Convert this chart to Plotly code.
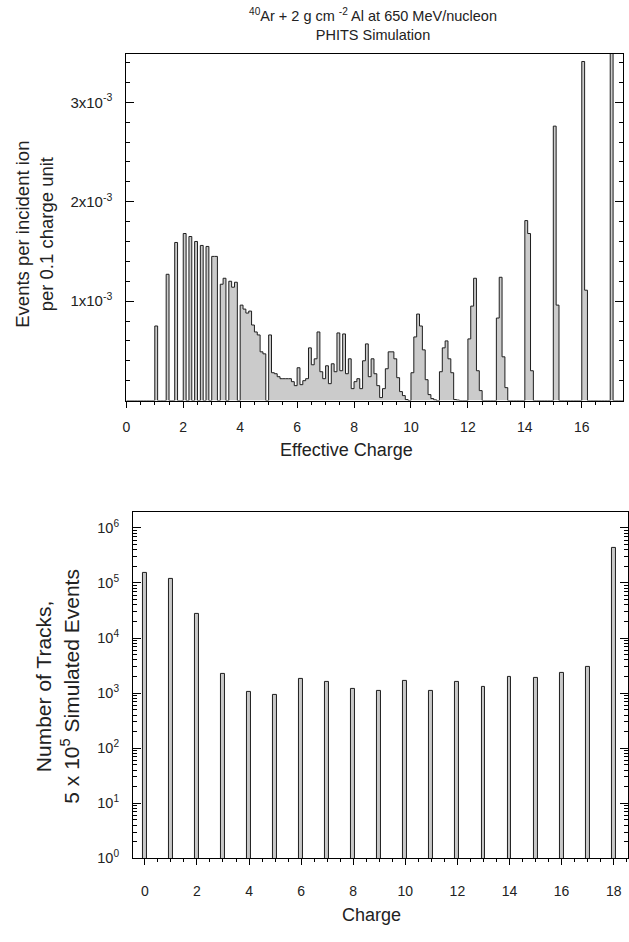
import plotly.graph_objects as go

# ---------------- data ----------------
# Top panel: events per incident ion per 0.1 charge bin (units of 1e-3), bins start at 0.0, step 0.1
bin_width = 0.1
events_e3 = [
    0, 0, 0, 0, 0, 0, 0, 0, 0, 0,                                   # 0.0-0.9
    0.75, 0, 0, 0, 1.27, 0, 0, 1.59, 0, 0,                          # 1.0-1.9
    1.68, 0, 1.65, 0, 1.60, 0, 1.56, 0, 1.55, 0,                    # 2.0-2.9
    1.45, 1.45, 0, 1.17, 1.23, 0, 1.20, 1.14, 1.19, 0,              # 3.0-3.9
    0.96, 0.92, 0.88, 0.90, 0.76, 0.69, 0.66, 0.49, 0.47, 0,        # 4.0-4.9
    0.66, 0.28, 0.27, 0.24, 0.22, 0.22, 0.22, 0.22, 0.19, 0.15,     # 5.0-5.9
    0.33, 0.16, 0.20, 0.22, 0.53, 0.36, 0.42, 0.69, 0.29, 0.22,     # 6.0-6.9
    0.35, 0.17, 0.37, 0.29, 0.68, 0.30, 0.67, 0.27, 0.42, 0.12,     # 7.0-7.9
    0.19, 0.22, 0.12, 0.40, 0.57, 0.24, 0.42, 0.27, 0.15, 0.03,     # 8.0-8.9
    0.12, 0.32, 0.49, 0.49, 0.42, 0.23, 0.09, 0.05, 0.01, 0,        # 9.0-9.9
    0.28, 0.64, 0.87, 0.75, 0.51, 0.21, 0.06, 0.02, 0.007, 0,       # 10.0-10.9
    0.29, 0.53, 0.60, 0.42, 0.28, 0.01, 0.005, 0, 0, 0,             # 11.0-11.9
    0.62, 0.95, 1.23, 0.30, 0.10, 0, 0, 0, 0, 0,                    # 12.0-12.9
    0.83, 1.24, 0.44, 0.13, 0, 0, 0, 0, 0, 0,                       # 13.0-13.9
    1.81, 1.68, 0.30, 0, 0, 0, 0, 0, 0, 0,                          # 14.0-14.9
    2.76, 0.96, 0, 0, 0, 0, 0, 0, 0, 0,                             # 15.0-15.9
    3.41, 1.11, 0, 0, 0, 0, 0, 0, 0, 0,                             # 16.0-16.9
    6.0, 0, 0, 0, 0,                                                # 17.0-17.4 (17 off scale)
]
top_yticks = [1e-3, 2e-3, 3e-3]
top_yticktext = ["1x10<sup>-3</sup>", "2x10<sup>-3</sup>", "3x10<sup>-3</sup>"]

# Bottom panel: number of tracks per integer charge
charges = list(range(0, 19))
tracks = [1.5e5, 1.2e5, 2.8e4, 2.2e3, 1.05e3, 9.4e2, 1.8e3, 1.6e3, 1.2e3, 1.1e3,
          1.65e3, 1.1e3, 1.6e3, 1.3e3, 1.95e3, 1.9e3, 2.3e3, 2.95e3, 4.3e5]
decades = [0, 1, 2, 3, 4, 5, 6]
bot_yticktext = ["10<sup>%d</sup>" % d for d in decades]

title_text = "<sup>40</sup>Ar + 2 g cm <sup>-2</sup> Al at 650 MeV/nucleon<br>PHITS Simulation"
top_xtitle = "Effective Charge"
top_ytitle = "Events per incident ion<br>per 0.1 charge unit"
bot_xtitle = "Charge"
bot_ytitle = "Number of Tracks,<br>5 x 10<sup>5</sup> Simulated Events"

# ---------------- figure ----------------
FONT = "Liberation Sans, Arial, sans-serif"
TXT = "#222222"
W, H = 629, 942

edges = [round(i * bin_width, 2) for i in range(len(events_e3) + 1)]
yvals = [v * 1e-3 for v in events_e3] + [0]

fig = go.Figure()
fig.add_trace(go.Scatter(
    x=edges, y=yvals, mode="lines", line_shape="hv",
    line=dict(color="#1e1e1e", width=1), fill="tozeroy", fillcolor="#cbcbcb",
    xaxis="x", yaxis="y", showlegend=False, hoverinfo="skip"))

fig.add_trace(go.Bar(
    x=charges, y=tracks, width=0.15,
    marker=dict(color="#c8c8c8", line=dict(color="#1e1e1e", width=1)),
    xaxis="x2", yaxis="y2", showlegend=False))

minor_log = [m * 10 ** d for d in decades for m in range(2, 10)]

axis_common = dict(showgrid=False, zeroline=False, showline=True, linecolor="black",
                   linewidth=1, tickcolor="black")

fig.update_layout(
    width=W, height=H, margin=dict(l=0, r=0, t=0, b=0),
    paper_bgcolor="white", plot_bgcolor="white",
    font=dict(family=FONT, color=TXT),
    bargap=0,
    xaxis=dict(domain=[123.3 / W, 624 / W], range=[0, 17.45], anchor="y",
               tickmode="linear", tick0=0, dtick=2, ticks="outside", ticklen=6, mirror=True,
               ticklabelstandoff=8, tickfont=dict(family=FONT, size=14, color=TXT),
               minor=dict(tickmode="linear", tick0=0, dtick=0.5, ticks="outside", ticklen=3, tickcolor="black"),
               **axis_common),
    yaxis=dict(domain=[1 - 404 / H, 1 - 54 / H], range=[0, 3.49e-3], anchor="x",
               tickmode="array", tickvals=top_yticks, ticktext=top_yticktext,
               ticks="inside", ticklen=8, mirror="ticks", ticklabelstandoff=10,
               tickfont=dict(family=FONT, size=15, color=TXT),
               minor=dict(tickmode="linear", tick0=0, dtick=0.2e-3, ticks="inside", ticklen=4, tickcolor="black"),
               **axis_common),
    xaxis2=dict(domain=[130 / W, 1.0], range=[-0.456, 18.55], anchor="y2",
                tickmode="linear", tick0=0, dtick=2, ticks="outside", ticklen=6, mirror=True,
                ticklabelstandoff=14, tickfont=dict(family=FONT, size=14, color=TXT),
                minor=dict(tickmode="linear", tick0=0, dtick=0.5, ticks="outside", ticklen=3, tickcolor="black"),
                **axis_common),
    yaxis2=dict(domain=[1 - 865.7 / H, 1 - 516.3 / H], type="log", range=[0, 6.29], anchor="x2",
                tickmode="array", tickvals=[10 ** d for d in decades], ticktext=bot_yticktext,
                ticks="inside", ticklen=8, mirror="ticks", ticklabelstandoff=10,
                tickfont=dict(family=FONT, size=14.5, color=TXT),
                minor=dict(tickmode="array", tickvals=minor_log, ticks="inside", ticklen=4, tickcolor="black"),
                **axis_common),
    annotations=[
        dict(text=title_text, xref="paper", yref="paper", x=372 / W, y=1 - 25 / H,
             xanchor="center", yanchor="middle", showarrow=False,
             font=dict(family=FONT, size=14.5, color=TXT)),
        dict(text=top_xtitle, xref="paper", yref="paper", x=345 / W, y=1 - 454 / H,
             xanchor="center", yanchor="middle", showarrow=False,
             font=dict(family=FONT, size=18, color=TXT)),
        dict(text=top_ytitle, xref="paper", yref="paper", x=31 / W, y=1 - 236 / H,
             xanchor="center", yanchor="middle", showarrow=False, textangle=-90,
             font=dict(family=FONT, size=18.5, color=TXT)),
        dict(text=bot_xtitle, xref="paper", yref="paper", x=370 / W, y=1 - 923 / H,
             xanchor="center", yanchor="middle", showarrow=False,
             font=dict(family=FONT, size=18, color=TXT)),
        dict(text=bot_ytitle, xref="paper", yref="paper", x=54 / W, y=1 - 692 / H,
             xanchor="center", yanchor="middle", showarrow=False, textangle=-90,
             font=dict(family=FONT, size=21, color=TXT)),
    ],
)

fig.write_html("out.html")
